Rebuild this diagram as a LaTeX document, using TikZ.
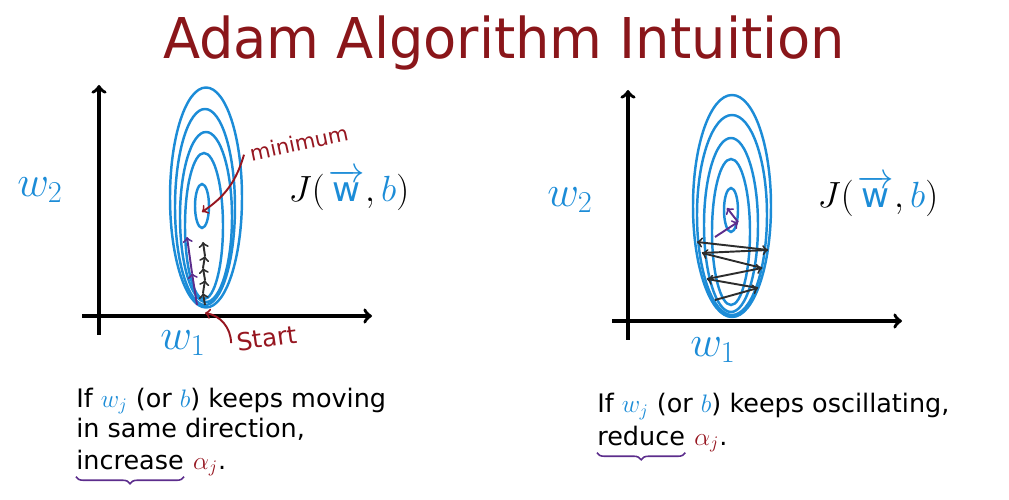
\documentclass[tikz,border=0pt]{standalone}
\usepackage{amsmath}
\usepackage{fontspec}
\setmainfont{DejaVu Sans}
\usepackage{tikz}
\usetikzlibrary{positioning,decorations.pathreplacing}
\definecolor{wblue}{RGB}{28,140,215}
\definecolor{titlered}{RGB}{138,22,26}
\definecolor{notered}{RGB}{150,22,32}
\definecolor{stepgray}{RGB}{45,45,45}
\definecolor{markpurple}{RGB}{92,45,140}
\tikzset{
  axis/.style={line width=2pt,->},
  contour/.style={draw=wblue,line width=1.4pt},
  steparrow/.style={stepgray,line width=1.1pt,->},
  fastarrow/.style={markpurple,line width=1.1pt,->},
  notearrow/.style={notered,line width=1.1pt,->},
  note/.style={notered,font=\fontsize{12}{12}\selectfont},
  wlabel/.style={wblue,font=\fontsize{23}{23}\selectfont},
  costlabel/.style={inner sep=0pt,font=\fontsize{19.5}{19.5}\selectfont},
  caption/.style={anchor=base west,inner sep=0pt,font=\fontsize{14.5}{17}\selectfont},
  brace/.style={decorate,decoration={brace,mirror,amplitude=4pt},markpurple,line width=0.9pt},
}
\begin{document}
\begin{tikzpicture}[x=0.02cm,y=-0.02cm]
    \useasboundingbox (0,0) rectangle (1009,500);
    \node [titlered,font=\fontsize{32}{32}\selectfont,anchor=base] (title) at (504,59) {\scalebox{0.965}[1]{Adam Algorithm Intuition}};

    % left plot
    \draw [axis] (99,335) -- (99,85);
    \draw [axis] (82,316) -- (372,316);
    \foreach \cx/\cy/\rx/\ry in {206/197.5/36/110,205/207/30/98,206/217/26/85,204/226/19/73,202/206/7/22}
        \draw [contour] (\cx,\cy) ellipse [x radius=\rx,y radius=\ry];
    \node [wlabel] (w2l) at (40,190) {$w_2$};
    \node [wlabel] (w1l) at (183,343) {$w_1$};
    \node [costlabel] (jl) at (349,190) {$J(\mkern2mu\textcolor{wblue}{\overrightarrow{\mathrm{w}}},\textcolor{wblue}{b})$};
    \foreach \i/\p in {0/{205,305},1/{203,293},2/{205,280},3/{203,268},4/{205,256},5/{203,242}}
        \coordinate (s\i) at (\p);
    \foreach \i [count=\j] in {0,...,4}
        \draw [steparrow] (s\i) -- (s\j);
    \foreach \i/\p in {0/{197,305},1/{192,273},2/{187,237}}
        \coordinate (f\i) at (\p);
    \foreach \i [count=\j] in {0,1}
        \draw [fastarrow] (f\i) -- (f\j);
    \node [note,rotate=12] (minl) at (299,143) {minimum};
    \coordinate (minpt) at (202,212);
    \draw [notearrow] (minl.west) to [bend left=20] (minpt);
    \node [note,font=\fontsize{14}{14}\selectfont,rotate=8] (startl) at (267,338) {Start};
    \coordinate (startpt) at (205,313);
    \draw [notearrow] (startl.west) to [bend right=40] (startpt);

    % right plot
    \draw [axis] (628,340) -- (628,90);
    \draw [axis] (612,321) -- (902,321);
    \foreach \cx/\cy/\rx/\ry in {732/206/39/111,732/215/35/100,731/225/27/87,731/232/19/73,731/210/7/22}
        \draw [contour] (\cx,\cy) ellipse [x radius=\rx,y radius=\ry];
    \node [wlabel] (w2r) at (570,200) {$w_2$};
    \node [wlabel] (w1r) at (713,350) {$w_1$};
    \node [costlabel] (jr) at (878,196) {$J(\mkern2mu\textcolor{wblue}{\overrightarrow{\mathrm{w}}},\textcolor{wblue}{b})$};
    \foreach \i/\p in {0/{715,300},1/{758,288},2/{707,279},3/{762,268},4/{702,253},5/{768,250},6/{697,242}}
        \coordinate (z\i) at (\p);
    \foreach \i [count=\j] in {0,...,5}
        \draw [steparrow] (z\i) -- (z\j);
    \foreach \i/\p in {0/{715,237},1/{738,222},2/{727,208}}
        \coordinate (q\i) at (\p);
    \foreach \i [count=\j] in {0,1}
        \draw [fastarrow] (q\i) -- (q\j);

    % captions
    \node [caption] (capl1) at (76,407) {If \textcolor{wblue}{$w_j$} (or \textcolor{wblue}{$b$}) keeps moving};
    \node [caption] (capl2) at (76,438) {in same direction,};
    \node [caption] (inc) at (76,469) {increase};
    \node [caption,right=5pt of inc.base east,anchor=base west] (alphal) {\textcolor{notered}{$\alpha_j$}.};
    \draw [brace] ([yshift=-4pt]inc.south west) -- ([yshift=-4pt]inc.south east);
    \node [caption] (capr1) at (597,413) {If \textcolor{wblue}{$w_j$} (or \textcolor{wblue}{$b$}) keeps oscillating,};
    \node [caption] (red) at (597,445) {reduce};
    \node [caption,right=5pt of red.base east,anchor=base west] (alphar) {\textcolor{notered}{$\alpha_j$}.};
    \draw [brace] ([yshift=-4pt]red.south west) -- ([yshift=-4pt]red.south east);
\end{tikzpicture}
\end{document}
